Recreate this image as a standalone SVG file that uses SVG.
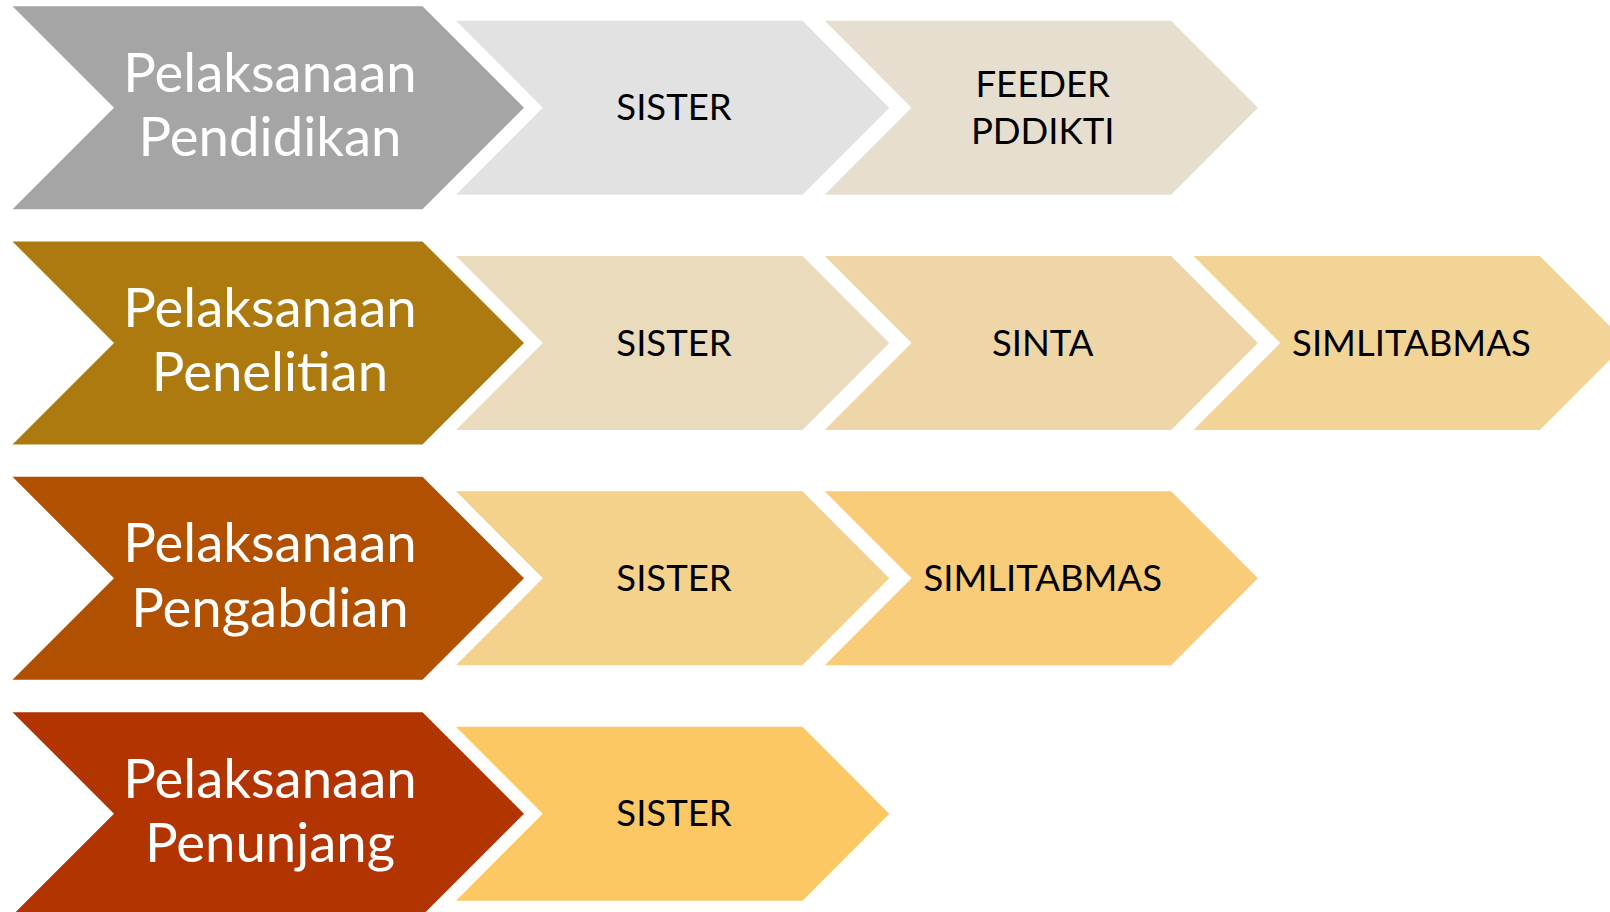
<svg xmlns="http://www.w3.org/2000/svg" width="1610" height="912" viewBox="0 0 1610 912">
<defs>
<style>
.main { font-family: Lato, "Open Sans", "Liberation Sans", sans-serif; font-size: 54.5px; fill: #FFFFFF; text-anchor: middle; }
.sub { font-family: Lato, "Open Sans", "Liberation Sans", sans-serif; font-size: 36.5px; fill: #000000; text-anchor: middle; }
</style>
<polygon id="bigChevron" points="12.5,0 422.5,0 524,101.5 422.5,203 12.5,203 114,101.5"/>
<polygon id="smallChevron" points="0,14.5 346.5,14.5 433.3,101.5 346.5,188.5 0,188.5 86.8,101.5"/>
</defs>
<rect width="1610" height="912" fill="#FFFFFF"/>

<g id="row1" transform="translate(0,6.2)">
  <g id="main-pendidikan">
    <use href="#bigChevron" fill="#A5A5A5"/>
    <text class="main" x="270" y="85.5">Pelaksanaan</text>
    <text class="main" x="270" y="149.8">Pendidikan</text>
  </g>
  <g id="pendidikan-sister" transform="translate(456,0)">
    <use href="#smallChevron" fill="#E2E2E2"/>
    <text class="sub" x="218" y="114">SISTER</text>
  </g>
  <g id="pendidikan-feeder" transform="translate(824.7,0)">
    <use href="#smallChevron" fill="#E6DECF"/>
    <text class="sub" x="218" y="90.5">FEEDER</text>
    <text class="sub" x="218" y="137.5">PDDIKTI</text>
  </g>
</g>

<g id="row2" transform="translate(0,241.5)">
  <g id="main-penelitian">
    <use href="#bigChevron" fill="#AD7A0F"/>
    <text class="main" x="270" y="85.5">Pelaksanaan</text>
    <text class="main" x="270" y="149.8">Penelitian</text>
  </g>
  <g id="penelitian-sister" transform="translate(456,0)">
    <use href="#smallChevron" fill="#EADBBC"/>
    <text class="sub" x="218" y="114">SISTER</text>
  </g>
  <g id="penelitian-sinta" transform="translate(824.7,0)">
    <use href="#smallChevron" fill="#EED6A8"/>
    <text class="sub" x="218" y="114">SINTA</text>
  </g>
  <g id="penelitian-simlitabmas" transform="translate(1193.4,0)">
    <use href="#smallChevron" fill="#F2D596"/>
    <text class="sub" x="218" y="114">SIMLITABMAS</text>
  </g>
</g>

<g id="row3" transform="translate(0,476.8)">
  <g id="main-pengabdian">
    <use href="#bigChevron" fill="#B05000"/>
    <text class="main" x="270" y="85.5">Pelaksanaan</text>
    <text class="main" x="270" y="149.8">Pengabdian</text>
  </g>
  <g id="pengabdian-sister" transform="translate(456,0)">
    <use href="#smallChevron" fill="#F5D28C"/>
    <text class="sub" x="218" y="114">SISTER</text>
  </g>
  <g id="pengabdian-simlitabmas" transform="translate(824.7,0)">
    <use href="#smallChevron" fill="#F8CC78"/>
    <text class="sub" x="218" y="114">SIMLITABMAS</text>
  </g>
</g>

<g id="row4" transform="translate(0,712.2)">
  <g id="main-penunjang">
    <use href="#bigChevron" fill="#B23400"/>
    <text class="main" x="270" y="85.5">Pelaksanaan</text>
    <text class="main" x="270" y="149.8">Penunjang</text>
  </g>
  <g id="penunjang-sister" transform="translate(456,0)">
    <use href="#smallChevron" fill="#FCC864"/>
    <text class="sub" x="218" y="114">SISTER</text>
  </g>
</g>

<g id="connectors"/>
</svg>
